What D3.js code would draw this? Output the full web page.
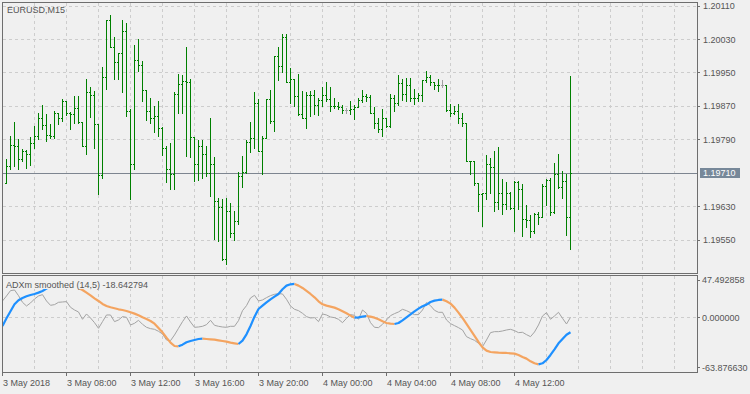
<!DOCTYPE html>
<html>
<head>
<meta charset="utf-8">
<script src="https://cdn.jsdelivr.net/npm/d3@7"></script>
<style>
  html, body { margin: 0; padding: 0; background: #f0f0f0; }
  svg { display: block; font-family: "Liberation Sans", Arial, sans-serif; }
</style>
</head>
<body>
<svg id="chart" width="750" height="394"></svg>
<script>
// EURUSD M15 bars, 3 May 04:15 .. 4 May 15:30
const opens = [
  1.19687, 1.19726, 1.19778, 1.19776, 1.19745, 1.19762, 1.19755, 1.19781, 1.19799, 1.19841,
  1.19825, 1.19802, 1.19800, 1.19853, 1.19843, 1.19882, 1.19855, 1.19851, 1.19865, 1.19832,
  1.19776, 1.19904, 1.19896, 1.19827, 1.19705, 1.19939, 1.20076, 1.20011, 1.19975, 1.19997,
  1.20050, 1.19859, 1.19733, 1.19981, 1.19968, 1.19909, 1.19859, 1.19841, 1.19846, 1.19819,
  1.19771, 1.19721, 1.19709, 1.19899, 1.19923, 1.19931, 1.19929, 1.19796, 1.19733, 1.19775,
  1.19757, 1.19711, 1.19731, 1.19644, 1.19628, 1.19505, 1.19620, 1.19566, 1.19596, 1.19704,
  1.19712, 1.19784, 1.19795, 1.19879, 1.19764, 1.19795, 1.19887, 1.19834, 1.19991, 1.19966,
  1.20035, 1.19927, 1.19935, 1.19894, 1.19852, 1.19843, 1.19896, 1.19898, 1.19872, 1.19885,
  1.19896, 1.19887, 1.19871, 1.19870, 1.19869, 1.19861, 1.19861, 1.19863, 1.19869, 1.19886,
  1.19895, 1.19893, 1.19855, 1.19831, 1.19815, 1.19842, 1.19822, 1.19891, 1.19877, 1.19926,
  1.19899, 1.19920, 1.19890, 1.19891, 1.19896, 1.19932, 1.19939, 1.19928, 1.19920, 1.19922,
  1.19922, 1.19861, 1.19853, 1.19859, 1.19842, 1.19831, 1.19740, 1.19738, 1.19686, 1.19659,
  1.19662, 1.19731, 1.19724, 1.19642, 1.19662, 1.19635, 1.19663, 1.19627, 1.19689, 1.19671,
  1.19601, 1.19599, 1.19571, 1.19613, 1.19606, 1.19679, 1.19693, 1.19616, 1.19707, 1.19676,
  1.19691, 1.19604
];
const highs = [
  1.19745, 1.19800, 1.19832, 1.19791, 1.19767, 1.19765, 1.19796, 1.19822, 1.19853, 1.19872,
  1.19851, 1.19827, 1.19859, 1.19855, 1.19887, 1.19883, 1.19856, 1.19894, 1.19894, 1.19832,
  1.19935, 1.19916, 1.19907, 1.19827, 1.19964, 1.20076, 1.20088, 1.20036, 1.19998, 1.20077,
  1.20069, 1.19864, 1.20017, 1.20032, 1.19979, 1.19910, 1.19889, 1.19871, 1.19883, 1.19820,
  1.19776, 1.19782, 1.19905, 1.19947, 1.19944, 1.20012, 1.19935, 1.19796, 1.19789, 1.19789,
  1.19775, 1.19842, 1.19748, 1.19651, 1.19647, 1.19651, 1.19639, 1.19620, 1.19712, 1.19751,
  1.19789, 1.19832, 1.19904, 1.19887, 1.19799, 1.19887, 1.19909, 1.19991, 1.20013, 1.20044,
  1.20043, 1.19962, 1.19935, 1.19947, 1.19907, 1.19905, 1.19906, 1.19909, 1.19890, 1.19916,
  1.19929, 1.19915, 1.19891, 1.19880, 1.19872, 1.19867, 1.19882, 1.19872, 1.19891, 1.19909,
  1.19899, 1.19897, 1.19869, 1.19843, 1.19863, 1.19843, 1.19899, 1.19896, 1.19944, 1.19935,
  1.19937, 1.19937, 1.19911, 1.19901, 1.19933, 1.19954, 1.19945, 1.19929, 1.19936, 1.19932,
  1.19922, 1.19875, 1.19871, 1.19875, 1.19853, 1.19831, 1.19740, 1.19739, 1.19686, 1.19662,
  1.19753, 1.19746, 1.19763, 1.19772, 1.19695, 1.19688, 1.19664, 1.19692, 1.19691, 1.19685,
  1.19634, 1.19609, 1.19614, 1.19616, 1.19683, 1.19697, 1.19698, 1.19734, 1.19755, 1.19714,
  1.19709, 1.19943
];
const lows = [
  1.19687, 1.19719, 1.19727, 1.19720, 1.19739, 1.19723, 1.19730, 1.19771, 1.19791, 1.19815,
  1.19787, 1.19795, 1.19795, 1.19828, 1.19835, 1.19850, 1.19816, 1.19831, 1.19831, 1.19775,
  1.19756, 1.19844, 1.19771, 1.19660, 1.19699, 1.19912, 1.20011, 1.19936, 1.19935, 1.19903,
  1.19847, 1.19648, 1.19720, 1.19954, 1.19883, 1.19838, 1.19831, 1.19809, 1.19799, 1.19754,
  1.19688, 1.19672, 1.19672, 1.19854, 1.19855, 1.19750, 1.19749, 1.19691, 1.19693, 1.19699,
  1.19703, 1.19656, 1.19552, 1.19547, 1.19503, 1.19493, 1.19557, 1.19550, 1.19589, 1.19677,
  1.19711, 1.19761, 1.19770, 1.19764, 1.19709, 1.19793, 1.19829, 1.19811, 1.19933, 1.19951,
  1.19927, 1.19879, 1.19871, 1.19850, 1.19843, 1.19819, 1.19847, 1.19852, 1.19850, 1.19870,
  1.19883, 1.19859, 1.19867, 1.19864, 1.19855, 1.19855, 1.19851, 1.19840, 1.19868, 1.19880,
  1.19882, 1.19854, 1.19819, 1.19808, 1.19799, 1.19821, 1.19821, 1.19859, 1.19873, 1.19885,
  1.19883, 1.19883, 1.19875, 1.19883, 1.19882, 1.19927, 1.19922, 1.19912, 1.19907, 1.19915,
  1.19859, 1.19847, 1.19851, 1.19831, 1.19824, 1.19739, 1.19709, 1.19681, 1.19619, 1.19583,
  1.19648, 1.19663, 1.19619, 1.19623, 1.19612, 1.19623, 1.19624, 1.19571, 1.19625, 1.19559,
  1.19582, 1.19556, 1.19567, 1.19588, 1.19606, 1.19633, 1.19610, 1.19615, 1.19675, 1.19651,
  1.19563, 1.19528
];
const closes = [
  1.19726, 1.19778, 1.19776, 1.19745, 1.19762, 1.19755, 1.19781, 1.19799, 1.19841, 1.19825,
  1.19802, 1.19800, 1.19853, 1.19843, 1.19882, 1.19855, 1.19851, 1.19865, 1.19832, 1.19776,
  1.19904, 1.19896, 1.19827, 1.19705, 1.19939, 1.20076, 1.20011, 1.19975, 1.19997, 1.20050,
  1.19859, 1.19733, 1.19981, 1.19968, 1.19909, 1.19859, 1.19841, 1.19846, 1.19819, 1.19771,
  1.19721, 1.19709, 1.19899, 1.19923, 1.19931, 1.19929, 1.19796, 1.19733, 1.19775, 1.19757,
  1.19711, 1.19731, 1.19644, 1.19628, 1.19505, 1.19620, 1.19566, 1.19596, 1.19704, 1.19712,
  1.19784, 1.19795, 1.19879, 1.19764, 1.19795, 1.19887, 1.19834, 1.19991, 1.19966, 1.20035,
  1.19927, 1.19935, 1.19894, 1.19852, 1.19843, 1.19896, 1.19898, 1.19872, 1.19885, 1.19896,
  1.19887, 1.19871, 1.19870, 1.19869, 1.19861, 1.19861, 1.19863, 1.19869, 1.19886, 1.19895,
  1.19893, 1.19855, 1.19831, 1.19815, 1.19842, 1.19822, 1.19891, 1.19877, 1.19926, 1.19899,
  1.19920, 1.19890, 1.19891, 1.19896, 1.19932, 1.19939, 1.19928, 1.19920, 1.19922, 1.19922,
  1.19861, 1.19853, 1.19859, 1.19842, 1.19831, 1.19740, 1.19738, 1.19686, 1.19659, 1.19662,
  1.19731, 1.19724, 1.19642, 1.19662, 1.19635, 1.19663, 1.19627, 1.19689, 1.19671, 1.19601,
  1.19599, 1.19571, 1.19613, 1.19606, 1.19679, 1.19693, 1.19616, 1.19707, 1.19676, 1.19691,
  1.19604, 1.19710
];
const lastPrice = 1.19710;
const priceTicks = [1.20110, 1.20030, 1.19950, 1.19870, 1.19790, 1.19630, 1.19550];

// ADXm smoothed (14,5): values start one bar before the first visible bar
const adxLine = [
  21.15, 27.53, 34.32, 35.17, 27.95, 19.45, 14.78, 18.60, 23.70, 27.53,
  29.22, 21.15, 15.63, 16.48, 19.45, 19.88, 20.30, 13.08, 9.68, 7.14,
  -2.21, 4.59, -0.51, -6.46, -13.68, -5.18, 3.31, 3.31, -5.18, -3.06,
  1.19, 0.34, -9.43, -7.31, -3.48, -8.58, -12.41, -14.10, -14.95, -17.50,
  -20.90, -28.55, -29.40, -22.18, -13.68, -5.18, 2.04, -5.61, -12.41, -11.98,
  -11.13, -9.01, -3.48, -9.86, -11.13, -11.98, -12.41, -11.13, -11.13, -3.91,
  8.83, 15.21, 24.98, 28.38, 21.15, 22.43, 25.40, 27.95, 29.65, 30.50,
  30.07, 23.28, 14.78, 10.53, 8.83, 5.44, 1.19, -0.51, -0.09, -5.18,
  4.59, 3.31, 0.76, -0.09, -2.21, -6.46, -0.94, 3.74, 2.89, -2.21,
  9.68, 5.44, -6.46, -12.41, -12.83, -8.58, -3.06, 2.46, 5.01, 7.14,
  10.53, 8.83, 6.29, 3.74, 3.74, 9.68, 19.03, 15.21, 9.26, 6.71,
  6.71, -3.06, -7.73, -10.28, -12.83, -15.80, -24.30, -26.85, -28.97, -32.80,
  -37.04, -28.55, -19.20, -17.93, -17.93, -17.08, -15.80, -14.95, -16.65, -19.20,
  -18.78, -21.75, -24.30, -18.35, -9.43, 2.04, 6.29, -2.21, 2.04, 6.71,
  -0.94, -8.16, 0.34
];
const adxSmooth = [
  -10.70, -0.94, 7.98, 16.91, 22.00, 24.98, 27.10, 28.80, 30.07, 31.77,
  33.90, 36.87, 39.84, 42.82, 45.37, 47.49, 45.79, 43.67, 40.69, 37.72,
  35.17, 31.77, 28.38, 24.55, 21.15, 17.33, 14.78, 13.08, 11.81, 10.53,
  9.68, 8.41, 6.71, 5.01, 2.89, 0.34, -1.79, -4.33, -7.73, -13.26,
  -18.78, -25.57, -31.95, -36.19, -36.62, -34.50, -31.52, -29.82, -28.55, -27.27,
  -26.85, -27.27, -27.70, -28.12, -28.97, -29.82, -30.67, -31.95, -32.80, -33.65,
  -29.40, -21.33, -10.70, 1.19, 10.96, 15.21, 19.45, 23.28, 26.68, 30.07,
  36.02, 40.69, 42.39, 42.82, 40.69, 37.72, 33.90, 30.07, 25.83, 20.73,
  16.91, 15.21, 13.93, 12.66, 10.53, 7.98, 5.44, 2.46, -0.09, 0.34,
  1.19, 2.04, 1.19, -0.09, -2.21, -4.76, -6.88, -7.73, -8.16, -6.88,
  -3.48, 0.34, 4.16, 7.98, 11.38, 14.36, 16.48, 19.88, 21.58, 22.43,
  22.85, 20.73, 17.75, 12.66, 6.29, -0.51, -8.16, -15.80, -23.45, -31.10,
  -37.89, -42.14, -43.84, -44.27, -44.69, -44.90, -45.11, -45.54, -45.96, -47.66,
  -50.21, -52.33, -55.73, -58.28, -59.56, -58.28, -54.04, -47.66, -40.44, -32.80,
  -27.27, -21.90, -18.64
];
const adxTicks = [47.492858, 0, -63.876630];
const adxTickLabels = ["47.492858", "0.000000", "-63.876630"];

const timeLabels = ["3 May 2018", "3 May 08:00", "3 May 12:00", "3 May 16:00", "3 May 20:00",
  "4 May 00:00", "4 May 04:00", "4 May 08:00", "4 May 12:00"];
const timeLabelBars = [-1, 15, 31, 47, 63, 79, 95, 111, 127];

// layout
const svg = d3.select('#chart');
const main = { l: 2, r: 697, t: 2, b: 273 };
const sub = { l: 2, r: 697, t: 275, b: 372 };
const frameColor = '#6e6e6e';
const gridColor = '#cdcdcd';
const textColor = '#555555';
const barColor = '#008000';
const dojiColor = '#a0a0a0';

const x = d3.scaleLinear().domain([0, 1]).range([6.5, 10.5]);
const y = d3.scaleLinear().domain([1.19550, 1.20110]).range([240, 6]);
const ySub = d3.scaleLinear().domain([-63.876630, 47.492858]).range([367.7, 280.3]);
const crisp = v => Math.round(v - 0.5) + 0.5;

svg.append('rect').attr('width', 750).attr('height', 394).attr('fill', '#f0f0f0');

const defs = svg.append('defs');
defs.append('clipPath').attr('id', 'clipMain')
  .append('rect').attr('x', main.l + 1).attr('y', main.t + 1)
  .attr('width', main.r - main.l - 1).attr('height', main.b - main.t - 1);
defs.append('clipPath').attr('id', 'clipSub')
  .append('rect').attr('x', sub.l + 1).attr('y', sub.t + 1)
  .attr('width', sub.r - sub.l - 1).attr('height', sub.b - sub.t - 1);

// grid
const gridBars = d3.range(7, 175, 8);
const grid = svg.append('g').attr('stroke', gridColor).attr('stroke-dasharray', '3,3')
  .attr('shape-rendering', 'crispEdges');
[[main.t + 1, main.b], [sub.t + 1, sub.b]].forEach(([t, b]) => {
  grid.selectAll(null).data(gridBars.filter(i => x(i) < main.r)).enter().append('line')
    .attr('x1', d => crisp(x(d))).attr('x2', d => crisp(x(d)))
    .attr('y1', t).attr('y2', b);
});
grid.selectAll(null).data(priceTicks).enter().append('line')
  .attr('x1', main.l + 1).attr('x2', main.r)
  .attr('y1', d => crisp(y(d))).attr('y2', d => crisp(y(d)));
grid.append('line').attr('x1', sub.l + 1).attr('x2', sub.r)
  .attr('y1', crisp(ySub(0))).attr('y2', crisp(ySub(0)));

// price line
svg.append('line').attr('x1', main.l + 1).attr('x2', main.r)
  .attr('y1', crisp(y(lastPrice))).attr('y2', crisp(y(lastPrice)))
  .attr('stroke', '#7d8590').attr('shape-rendering', 'crispEdges');

// bars
const bars = d3.range(closes.length).map(i => ({
  i, o: opens[i], h: highs[i], l: lows[i], c: closes[i]
}));
const barG = svg.append('g').attr('clip-path', 'url(#clipMain)')
  .attr('shape-rendering', 'crispEdges');
const bar = barG.selectAll('g').data(bars).enter().append('g')
  .attr('fill', d => d.o === d.c ? dojiColor : barColor);
bar.append('rect')
  .attr('x', d => Math.floor(x(d.i))).attr('width', 1)
  .attr('y', d => Math.round(y(d.h)))
  .attr('height', d => Math.round(y(d.l)) - Math.round(y(d.h)) + 1);
bar.append('rect')
  .attr('x', d => Math.floor(x(d.i)) - 1).attr('width', 1)
  .attr('y', d => Math.round(y(d.o))).attr('height', 1);
bar.append('rect')
  .attr('x', d => Math.floor(x(d.i)) + 1).attr('width', 1)
  .attr('y', d => Math.round(y(d.c))).attr('height', 1);

// indicator
const subG = svg.append('g').attr('clip-path', 'url(#clipSub)');
const pts = adxLine.map((v, k) => [x(k - 1), ySub(v)]);
subG.append('path').attr('d', d3.line()(pts))
  .attr('fill', 'none').attr('stroke', '#a3a3a3').attr('stroke-width', 1);

const runs = [];
for (let k = 1; k < adxSmooth.length; k++) {
  const col = adxSmooth[k] >= adxSmooth[k - 1] ? '#1e90ff' : '#f4a460';
  const p0 = [x(k - 2), ySub(adxSmooth[k - 1])], p1 = [x(k - 1), ySub(adxSmooth[k])];
  const last = runs[runs.length - 1];
  if (last && last.col === col) last.pts.push(p1);
  else runs.push({ col, pts: [p0, p1] });
}
subG.selectAll('path.smooth').data(runs).enter().append('path')
  .attr('class', 'smooth')
  .attr('d', d => d3.line()(d.pts))
  .attr('fill', 'none').attr('stroke', d => d.col)
  .attr('stroke-width', 2.2).attr('stroke-linejoin', 'round');

// indicator label with its own background
svg.append('rect').attr('x', sub.l + 1).attr('y', sub.t + 1)
  .attr('width', 153).attr('height', 13).attr('fill', '#f0f0f0');
svg.append('text').attr('x', 6).attr('y', 288)
  .attr('font-size', 9).attr('fill', textColor)
  .text('ADXm smoothed (14,5) -18.642794');

svg.append('text').attr('x', 7).attr('y', 12.5)
  .attr('font-size', 9).attr('fill', textColor).text('EURUSD,M15');

// frames
const frames = svg.append('g').attr('fill', 'none').attr('stroke', frameColor)
  .attr('shape-rendering', 'crispEdges');
frames.append('rect').attr('x', main.l + 0.5).attr('y', main.t + 0.5)
  .attr('width', main.r - main.l).attr('height', main.b - main.t);
frames.append('rect').attr('x', sub.l + 0.5).attr('y', sub.t + 0.5)
  .attr('width', sub.r - sub.l).attr('height', sub.b - sub.t);

// price axis
const axisG = svg.append('g').attr('font-size', 9).attr('fill', textColor);
priceTicks.forEach(p => {
  frames.append('line').attr('x1', main.r).attr('x2', main.r + 3)
    .attr('y1', crisp(y(p))).attr('y2', crisp(y(p)));
  axisG.append('text').attr('x', 703).attr('y', y(p)).attr('dy', '0.35em')
    .text(d3.format('.5f')(p));
});
svg.append('rect').attr('x', 700).attr('y', Math.round(y(lastPrice)) - 5)
  .attr('width', 40).attr('height', 10).attr('fill', '#778899');
svg.append('text').attr('x', 703).attr('y', y(lastPrice)).attr('dy', '0.35em')
  .attr('font-size', 9).attr('fill', '#ffffff').text(d3.format('.5f')(lastPrice));

adxTicks.forEach((v, j) => {
  frames.append('line').attr('x1', sub.r).attr('x2', sub.r + 3)
    .attr('y1', crisp(ySub(v))).attr('y2', crisp(ySub(v)));
  axisG.append('text').attr('x', 702).attr('y', ySub(v)).attr('dy', '0.35em')
    .text(adxTickLabels[j]);
});

// time axis
timeLabelBars.forEach((b, j) => {
  const tx = b < 0 ? main.l + 0.5 : crisp(x(b));
  frames.append('line').attr('x1', tx).attr('x2', tx).attr('y1', sub.b).attr('y2', sub.b + 4);
  axisG.append('text').attr('x', tx + 0.5).attr('y', 385.5).text(timeLabels[j]);
});
</script>
</body>
</html>
